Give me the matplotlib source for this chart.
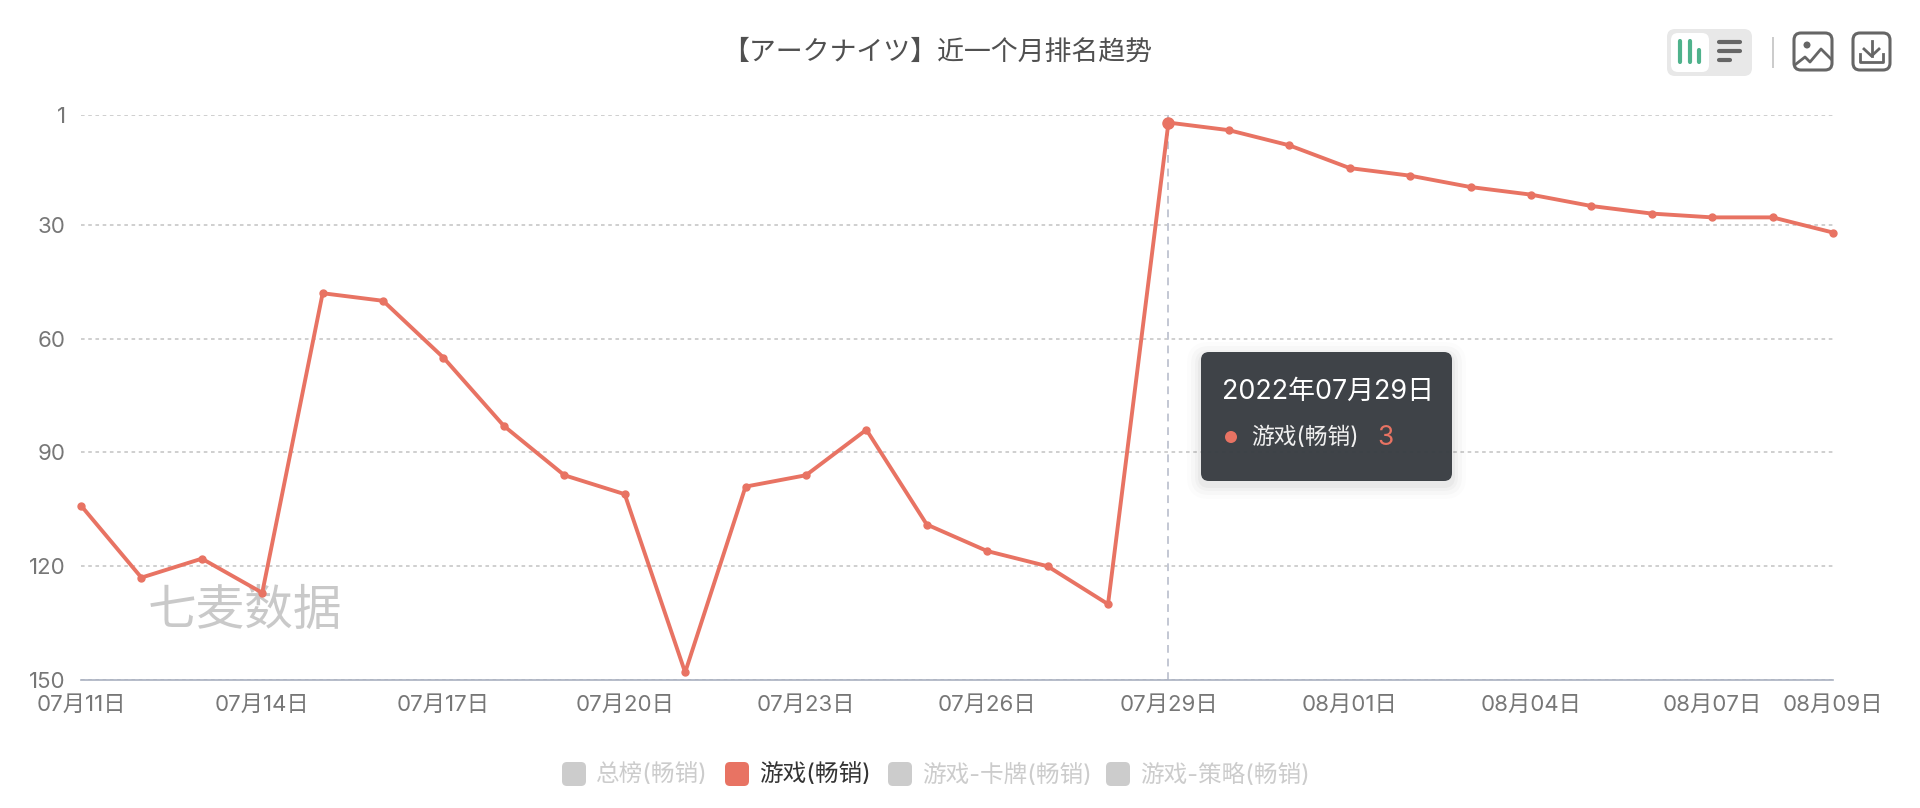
import numpy as np
import matplotlib
matplotlib.use("Agg")
import matplotlib.pyplot as plt
from matplotlib.patches import FancyBboxPatch, Circle, Rectangle

plt.rcParams['font.family'] = ['Inter', 'Noto Sans CJK SC', 'DejaVu Sans']

dates = ['07月11日', '07月12日', '07月13日', '07月14日', '07月15日', '07月16日', '07月17日', '07月18日',
         '07月19日', '07月20日', '07月21日', '07月22日', '07月23日', '07月24日', '07月25日', '07月26日',
         '07月27日', '07月28日', '07月29日', '07月30日', '07月31日', '08月01日', '08月02日', '08月03日',
         '08月04日', '08月05日', '08月06日', '08月07日', '08月08日', '08月09日']
ranks = [104, 123, 118, 127, 48, 50, 65, 83, 96, 101, 148, 99, 96, 84, 109, 116, 120, 130,
         3, 5, 9, 15, 17, 20, 22, 25, 27, 28, 28, 32]
xtick_labels = ['07月11日', '07月14日', '07月17日', '07月20日', '07月23日', '07月26日', '07月29日',
                '08月01日', '08月04日', '08月07日', '08月09日']
ytick_values = [1, 30, 60, 90, 120, 150]
legend_names = ['总榜(畅销)', '游戏(畅销)', '游戏-卡牌(畅销)', '游戏-策略(畅销)']
legend_active = [False, True, False, False]
title = '【アークナイツ】近一个月排名趋势'
watermark = '七麦数据'
hover_date = '07月29日'
hover_title = '2022年07月29日'

RED = '#e87363'
W, H = 1920, 808

fig = plt.figure(figsize=(W / 100, H / 100), dpi=100, facecolor='white')

# plot area, pixel box
left, right, top, bottom = 81, 1833, 115, 680
ax = fig.add_axes([left / W, 1 - bottom / H, (right - left) / W, (bottom - top) / H])

ax.plot(dates, ranks, color=RED, lw=2.8, marker='o', ms=5, clip_on=False, zorder=4)
ax.plot([hover_date], [ranks[dates.index(hover_date)]], color=RED, marker='o', ms=8, clip_on=False, zorder=5)
ax.axvline(hover_date, color='#c3c7d3', lw=1.4, ls=(0, (4, 3)), zorder=2)

ax.set_xlim(0, len(dates) - 1)
ax.set_ylim(150, 1)
ax.set_yticks(ytick_values)
ax.set_xticks(xtick_labels)
ax.tick_params(axis='both', length=0, labelsize=16, labelcolor='#777777')
ax.tick_params(axis='x', pad=11)
ax.tick_params(axis='y', pad=11)
ax.grid(axis='y', color='#cccccc', lw=1.3, ls=(0, (2, 2)), zorder=1)
for s in ['top', 'left', 'right']:
    ax.spines[s].set_visible(False)
ax.spines['bottom'].set_color('#a9b0c0')
ax.spines['bottom'].set_linewidth(1.2)

# everything else goes on an overlay in pixel coords
ov = fig.add_axes([0, 0, 1, 1], facecolor='none', zorder=10)
ov.set_xlim(0, W)
ov.set_ylim(H, 0)
ov.axis('off')


def rrect(x0, y0, x1, y1, r, **kw):
    p = FancyBboxPatch((x0 + r, y0 + r), x1 - x0 - 2 * r, y1 - y0 - 2 * r,
                       boxstyle='round,pad=%s,rounding_size=%s' % (r, r), **kw)
    ov.add_patch(p)
    return p


ov.text(937, 53, title, ha='center', va='center', fontsize=19.4, color='#505050', fontweight='medium')
# watermark sits under the line, so it belongs to the plot axes
ax.text(245, 612, watermark, ha='center', va='center', fontsize=35, color='#c9c9c9',
        transform=ov.transData, zorder=3)

# tooltip
for grow, a in [(14, 0.012), (10, 0.018), (6, 0.025), (3, 0.03)]:
    rrect(1201 - grow, 352 - grow + 4, 1452 + grow, 481 + grow + 4, 8 + grow, fc='black', ec='none', alpha=a)
rrect(1201, 352, 1452, 481, 8, fc='#393e43', ec='none', alpha=0.97)
ov.text(1222, 392, hover_title, ha='left', va='center', fontsize=19.4, color='white')
ov.add_patch(Circle((1231, 437), 6, fc=RED, ec='none'))
ov.text(1251, 438, legend_names[1], ha='left', va='center', fontsize=16.4, color='#f0f0f0')
ov.text(1377, 438, str(ranks[dates.index(hover_date)]), ha='left', va='center', fontsize=19, color=RED)

# legend
legend_x = [562, 725, 888, 1106]
for x, name, on in zip(legend_x, legend_names, legend_active):
    rrect(x, 762, x + 24, 786, 5, fc=RED if on else '#cccccc', ec='none')
    ov.text(x + 34, 775, name, ha='left', va='center', fontsize=17, color='#333333' if on else '#cccccc')

# toolbar
rrect(1667, 29, 1752, 76, 8, fc='#e8e8e8', ec='none')
rrect(1671, 33, 1709, 72, 7, fc='white', ec='none')
for x, y0 in [(1680, 41), (1690, 41), (1699, 50)]:
    ov.plot([x, x], [y0, 62], color='#4fb28c', lw=3, solid_capstyle='round')
for y, x1 in [(42, 1740), (51, 1740), (60, 1730)]:
    ov.plot([1719, x1], [y, y], color='#666666', lw=3, solid_capstyle='round')
ov.add_patch(Rectangle((1772, 37), 2, 31, fc='#cccccc', ec='none'))

# image button
rrect(1794, 33, 1832, 70, 7, fc='none', ec='#666666', lw=2.2)
ov.add_patch(Circle((1807, 45), 3.5, fc='#666666', ec='none'))
ov.plot([1796, 1805, 1810, 1821, 1831], [64, 57, 62, 49, 59], color='#666666', lw=2)

# download button
rrect(1853, 33, 1890, 70, 7, fc='none', ec='#666666', lw=2.2)
ov.plot([1871.5, 1871.5], [41, 56], color='#666666', lw=2)
ov.plot([1864, 1871.5, 1879], [49, 56, 49], color='#666666', lw=2)
ov.plot([1860, 1860, 1883, 1883], [54, 62, 62, 54], color='#666666', lw=2)

fig.savefig('out.png', dpi=100)
